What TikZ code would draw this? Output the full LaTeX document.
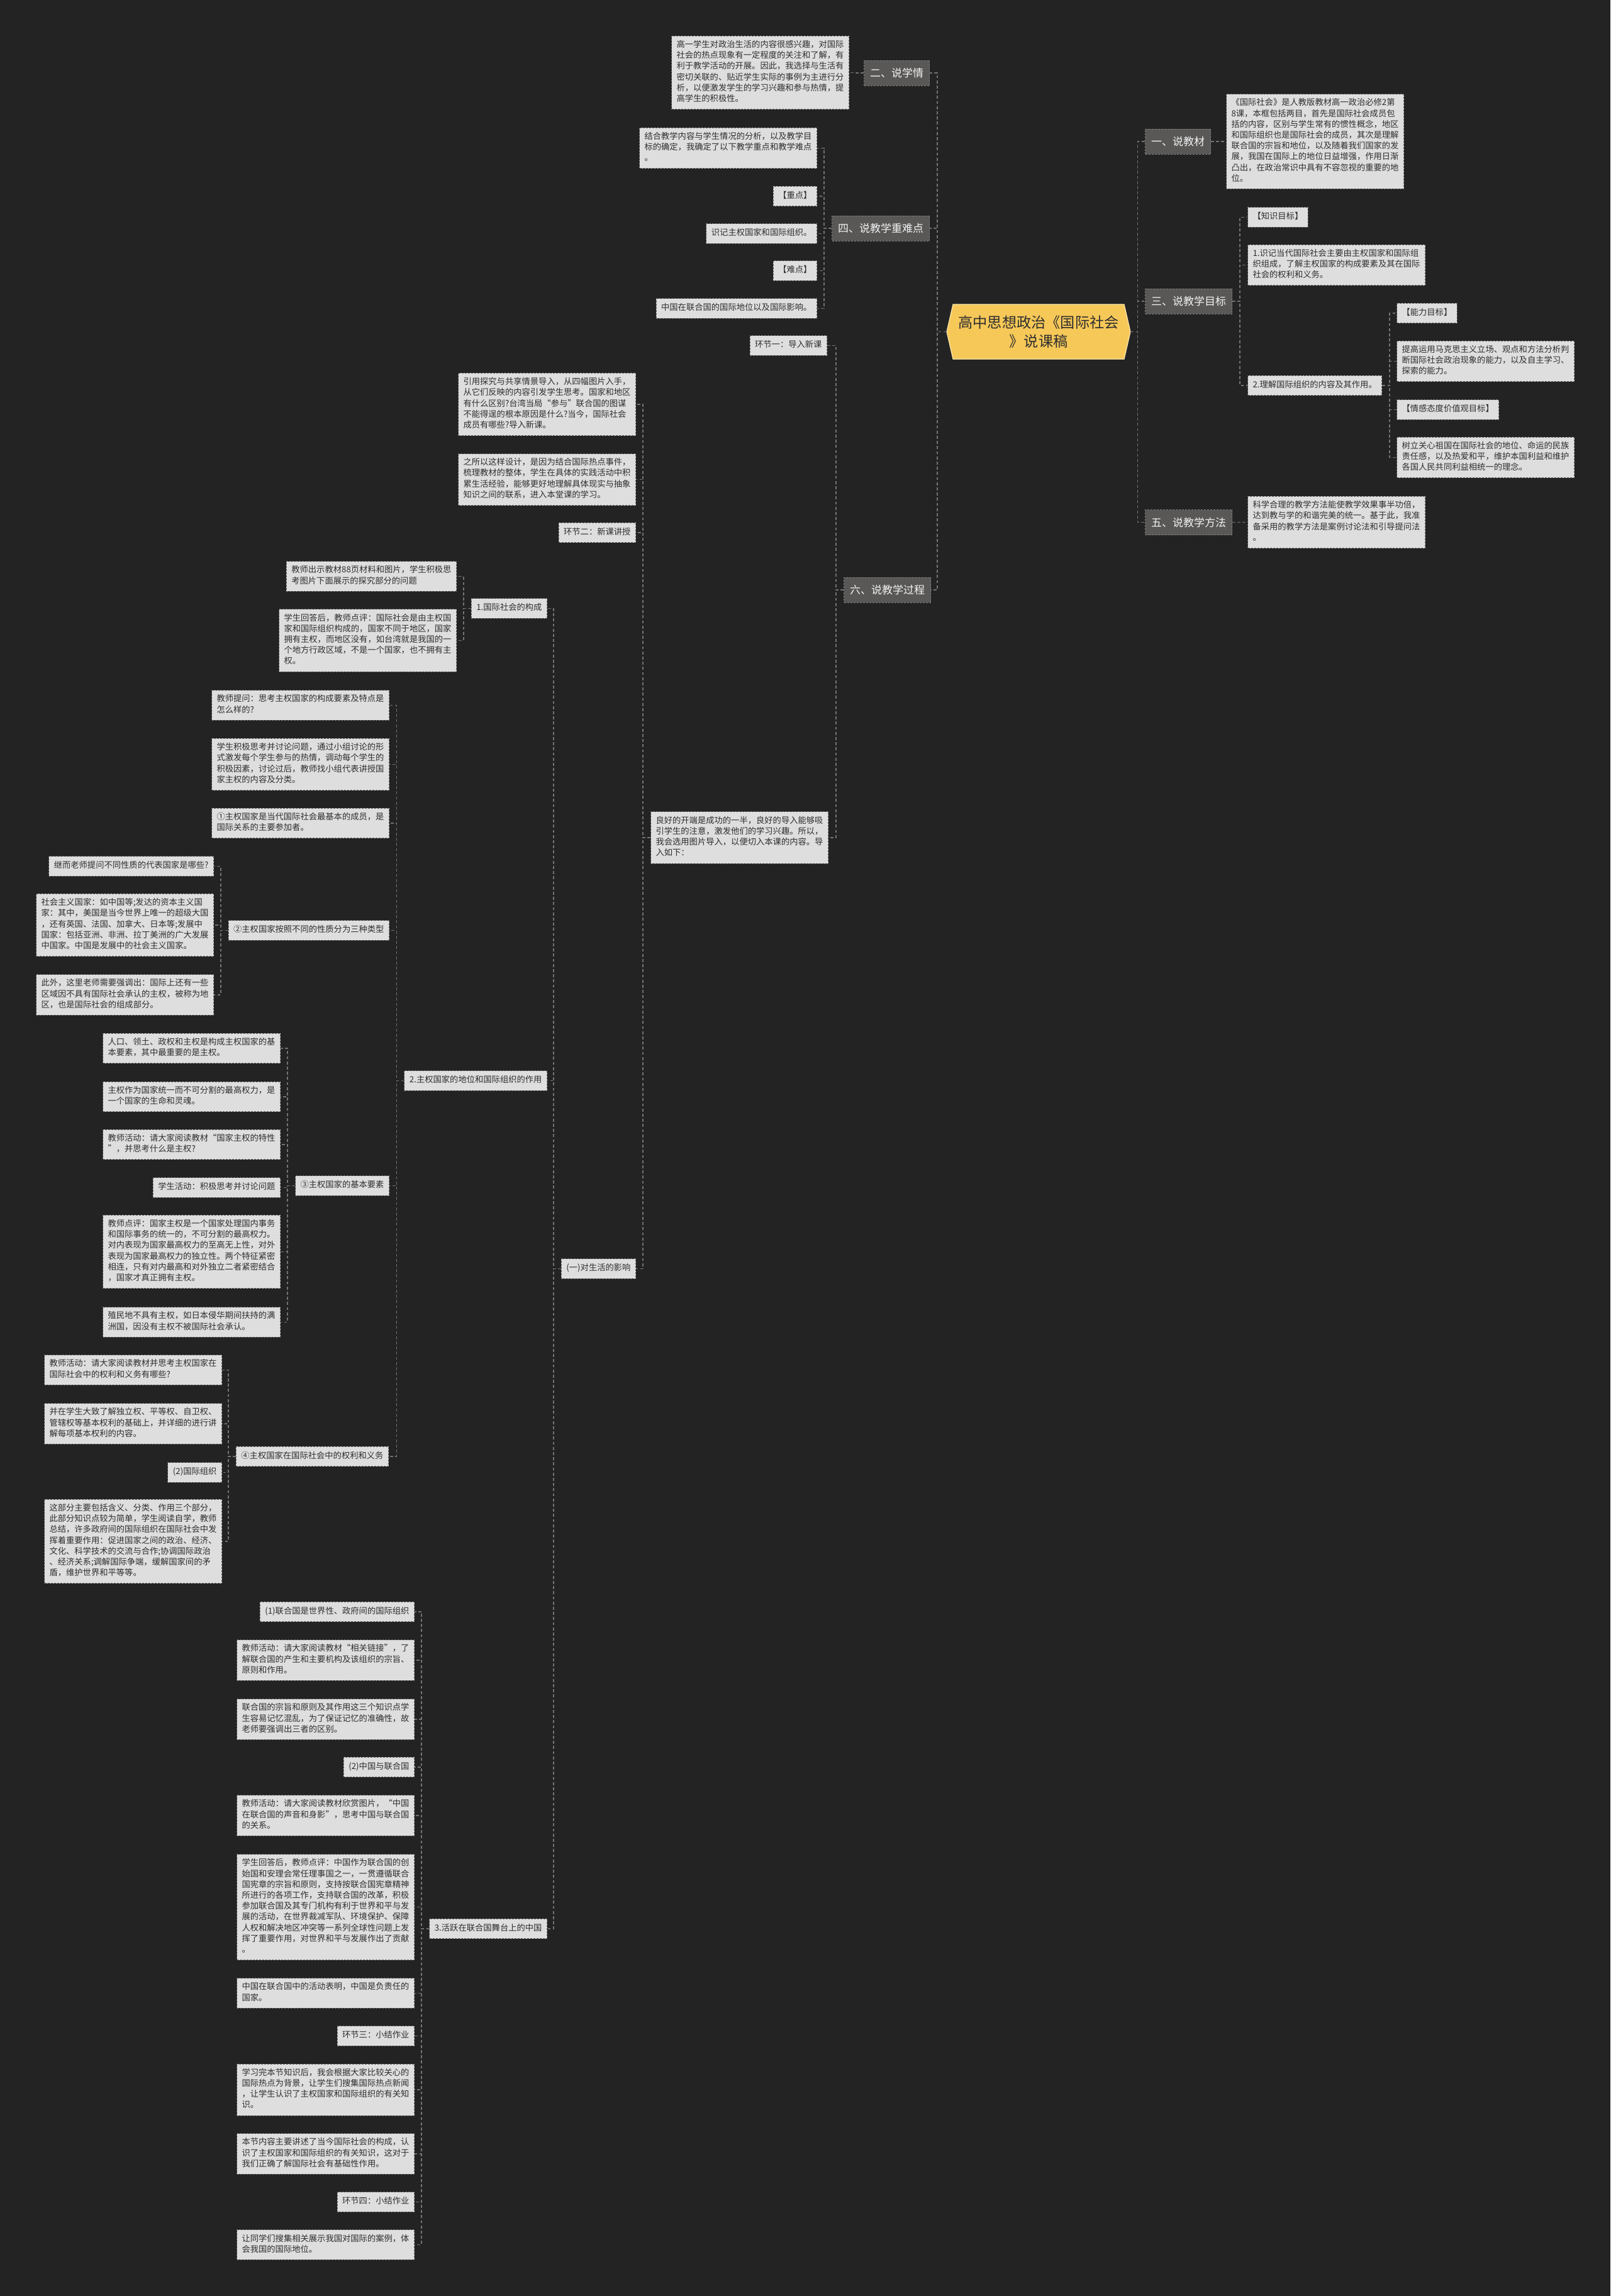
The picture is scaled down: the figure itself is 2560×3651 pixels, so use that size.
\documentclass[tikz,border=0pt]{standalone}
\usepackage{fontspec}
\setmainfont{Noto Sans CJK SC}
\definecolor{bgc}{HTML}{232323}
\definecolor{boxfill}{HTML}{DEDEDE}
\definecolor{boxline}{HTML}{6A6A6A}
\definecolor{boxtext}{HTML}{2E2E2E}
\definecolor{brfill}{HTML}{595857}
\definecolor{brline}{HTML}{7E7E7E}
\definecolor{brtext}{HTML}{F2F2F2}
\definecolor{connc}{HTML}{727272}
\definecolor{cyel}{HTML}{F6C858}
\definecolor{cedge}{HTML}{FBE7AE}
\newcommand\leaffont{\fontsize{6.65pt}{8.6pt}\selectfont}
\newcommand\brfont{\fontsize{8.5pt}{10pt}\selectfont}
\newcommand\cfont{\fontsize{11.6pt}{15pt}\selectfont}
\newcommand\nln{\\\strut}
\newcommand\linkL[2]{\foreach \ch in {#2}{\draw[conn] (#1.west) -- ++(-12,0) |- (\ch.east);}}
\newcommand\linkR[2]{\foreach \ch in {#2}{\draw[conn] (#1.east) -- ++(12,0) |- (\ch.west);}}
\begin{document}
\begin{tikzpicture}[x=0.5pt,y=-0.5pt,
  leaf/.style={draw=boxline, dash pattern=on 1.5pt off 1pt, line width=0.5pt, fill=boxfill, text=boxtext, align=left, inner xsep=4pt, inner ysep=3.5pt, font=\leaffont, execute at begin node=\strut},
  lft/.style={leaf, anchor=east},
  rgt/.style={leaf, anchor=west},
  br/.style={draw=brline, dash pattern=on 1.5pt off 1pt, line width=0.5pt, fill=brfill, text=brtext, font=\brfont, inner xsep=4.75pt, inner ysep=0pt, minimum height=20pt},
  conn/.style={draw=connc, line width=0.9pt, dash pattern=on 2.4pt off 1.7pt}]
\useasboundingbox (0,0) rectangle (2560,3651);
\fill[bgc] (0,0) rectangle (2560,3651);

% central
\filldraw[fill=cyel, draw=cedge, line width=0.6pt] (1505,527.5) -- (1515,484) -- (1787,484) -- (1797,527.5) -- (1787,571) -- (1515,571) -- cycle;
\node[minimum width=146pt, minimum height=43.5pt, inner sep=0pt, align=center, font=\cfont, text=boxtext] (c) at (1651,527.5) {高中思想政治《国际社会\\》说课稿};

% branches
\node[br, anchor=east] (b2) at (1478,116) {二、说学情};
\node[br, anchor=east] (b4) at (1478,363) {四、说教学重难点};
\node[br, anchor=east] (b6) at (1480,938) {六、说教学过程};
\node[br, anchor=west] (b1) at (1820,225) {一、说教材};
\node[br, anchor=west] (b3) at (1820,479) {三、说教学目标};
\node[br, anchor=west] (b5) at (1820,830.5) {五、说教学方法};

% right side leaves
\node[rgt] (b1a) at (1949,225) {《国际社会》是人教版教材高一政治必修2第\nln 8课，本框包括两目，首先是国际社会成员包\nln 括的内容，区别与学生常有的惯性概念，地区\nln 和国际组织也是国际社会的成员，其次是理解\nln 联合国的宗旨和地位，以及随着我们国家的发\nln 展，我国在国际上的地位日益增强，作用日渐\nln 凸出，在政治常识中具有不容忽视的重要的地\nln 位。};
\node[rgt] (b3a) at (1983,345.5) {【知识目标】};
\node[rgt] (b3b) at (1983,421.5) {1.识记当代国际社会主要由主权国家和国际组\nln 织组成，了解主权国家的构成要素及其在国际\nln 社会的权利和义务。};
\node[rgt] (b3c) at (1983,613) {2.理解国际组织的内容及其作用。};
\node[rgt] (b3d) at (2220,498) {【能力目标】};
\node[rgt] (b3e) at (2220,574.5) {提高运用马克思主义立场、观点和方法分析判\nln 断国际社会政治现象的能力，以及自主学习、\nln 探索的能力。};
\node[rgt] (b3f) at (2220,651.5) {【情感态度价值观目标】};
\node[rgt] (b3g) at (2220,727.5) {树立关心祖国在国际社会的地位、命运的民族\nln 责任感，以及热爱和平，维护本国利益和维护\nln 各国人民共同利益相统一的理念。};
\node[rgt] (b5a) at (1983,830.5) {科学合理的教学方法能使教学效果事半功倍，\nln 达到教与学的和谐完美的统一。基于此，我准\nln 备采用的教学方法是案例讨论法和引导提问法\nln 。};

% left side upper
\node[lft] (b2a) at (1350,115.5) {高一学生对政治生活的内容很感兴趣，对国际\nln 社会的热点现象有一定程度的关注和了解，有\nln 利于教学活动的开展。因此，我选择与生活有\nln 密切关联的、贴近学生实际的事例为主进行分\nln 析，以便激发学生的学习兴趣和参与热情，提\nln 高学生的积极性。};
\node[lft] (b4a) at (1299,235.5) {结合教学内容与学生情况的分析，以及教学目\nln 标的确定，我确定了以下教学重点和教学难点\nln 。};
\node[lft] (b4b) at (1299,312) {【重点】};
\node[lft] (b4c) at (1299,371.5) {识记主权国家和国际组织。};
\node[lft] (b4d) at (1299,430.5) {【难点】};
\node[lft] (b4e) at (1299,490.5) {中国在联合国的国际地位以及国际影响。};
\node[lft] (b6a) at (1315,549.5) {环节一：导入新课};
\node[lft] (b6b) at (1317,1332) {良好的开端是成功的一半，良好的导入能够吸\nln 引学生的注意，激发他们的学习兴趣。所以，\nln 我会选用图片导入，以便切入本课的内容。导\nln 入如下：};
\node[lft] (g1) at (1011,643) {引用探究与共享情景导入，从四幅图片入手，\nln 从它们反映的内容引发学生思考。国家和地区\nln 有什么区别?台湾当局“参与”联合国的图谋\nln 不能得逞的根本原因是什么?当今，国际社会\nln 成员有哪些?导入新课。};
\node[lft] (g2) at (1011,762.5) {之所以这样设计，是因为结合国际热点事件，\nln 梳理教材的整体，学生在具体的实践活动中积\nln 累生活经验，能够更好地理解具体现实与抽象\nln 知识之间的联系，进入本堂课的学习。};
\node[lft] (g3) at (1011,847) {环节二：新课讲授};
\node[lft] (g4) at (1011,2017.5) {(一)对生活的影响};

% 1.
\node[lft] (h1) at (870,967.5) {1.国际社会的构成};
\node[lft] (h1a) at (726,916.5) {教师出示教材88页材料和图片，学生积极思\nln 考图片下面展示的探究部分的问题};
\node[lft] (h1b) at (726,1018.5) {学生回答后，教师点评：国际社会是由主权国\nln 家和国际组织构成的，国家不同于地区，国家\nln 拥有主权，而地区没有，如台湾就是我国的一\nln 个地方行政区域，不是一个国家，也不拥有主\nln 权。};

% 2.
\node[lft] (h2) at (870,1718.5) {2.主权国家的地位和国际组织的作用};
\node[lft] (h2a) at (619,1121.5) {教师提问：思考主权国家的构成要素及特点是\nln 怎么样的?};
\node[lft] (h2b) at (619,1215.5) {学生积极思考并讨论问题，通过小组讨论的形\nln 式激发每个学生参与的热情，调动每个学生的\nln 积极因素，讨论过后，教师找小组代表讲授国\nln 家主权的内容及分类。};
\node[lft] (h2c) at (619,1309) {①主权国家是当代国际社会最基本的成员，是\nln 国际关系的主要参加者。};
\node[lft] (h2d) at (619,1479.5) {②主权国家按照不同的性质分为三种类型};
\node[lft] (h2d1) at (340,1377.5) {继而老师提问不同性质的代表国家是哪些?};
\node[lft] (h2d2) at (340,1471) {社会主义国家：如中国等;发达的资本主义国\nln 家：其中，美国是当今世界上唯一的超级大国\nln ，还有英国、法国、加拿大、日本等;发展中\nln 国家：包括亚洲、非洲、拉丁美洲的广大发展\nln 中国家。中国是发展中的社会主义国家。};
\node[lft] (h2d3) at (340,1582) {此外，这里老师需要强调出：国际上还有一些\nln 区域因不具有国际社会承认的主权，被称为地\nln 区，也是国际社会的组成部分。};
\node[lft] (h2e) at (619,1885.5) {③主权国家的基本要素};
\node[lft] (h2e1) at (446,1667) {人口、领土、政权和主权是构成主权国家的基\nln 本要素，其中最重要的是主权。};
\node[lft] (h2e2) at (446,1744) {主权作为国家统一而不可分割的最高权力，是\nln 一个国家的生命和灵魂。};
\node[lft] (h2e3) at (446,1820) {教师活动：请大家阅读教材“国家主权的特性\nln ”，并思考什么是主权?};
\node[lft] (h2e4) at (446,1888.5) {学生活动：积极思考并讨论问题};
\node[lft] (h2e5) at (446,1990.5) {教师点评：国家主权是一个国家处理国内事务\nln 和国际事务的统一的，不可分割的最高权力。\nln 对内表现为国家最高权力的至高无上性，对外\nln 表现为国家最高权力的独立性。两个特征紧密\nln 相连，只有对内最高和对外独立二者紧密结合\nln ，国家才真正拥有主权。};
\node[lft] (h2e6) at (446,2102.5) {殖民地不具有主权，如日本侵华期间扶持的满\nln 洲国，因没有主权不被国际社会承认。};
\node[lft] (h2f) at (618,2316) {④主权国家在国际社会中的权利和义务};
\node[lft] (h2f1) at (353,2178.5) {教师活动：请大家阅读教材并思考主权国家在\nln 国际社会中的权利和义务有哪些?};
\node[lft] (h2f2) at (353,2264) {并在学生大致了解独立权、平等权、自卫权、\nln 管辖权等基本权利的基础上，并详细的进行讲\nln 解每项基本权利的内容。};
\node[lft] (h2f3) at (353,2341.5) {(2)国际组织};
\node[lft] (h2f4) at (353,2451) {这部分主要包括含义、分类、作用三个部分，\nln 此部分知识点较为简单，学生阅读自学，教师\nln 总结，许多政府间的国际组织在国际社会中发\nln 挥着重要作用：促进国家之间的政治、经济、\nln 文化、科学技术的交流与合作;协调国际政治\nln 、经济关系;调解国际争端，缓解国家间的矛\nln 盾，维护世界和平等等。};

% 3.
\node[lft] (h3) at (870,3067) {3.活跃在联合国舞台上的中国};
\node[lft] (h3a) at (659,2563) {(1)联合国是世界性、政府间的国际组织};
\node[lft] (h3b) at (659,2640) {教师活动：请大家阅读教材“相关链接”，了\nln 解联合国的产生和主要机构及该组织的宗旨、\nln 原则和作用。};
\node[lft] (h3c) at (659,2734) {联合国的宗旨和原则及其作用这三个知识点学\nln 生容易记忆混乱，为了保证记忆的准确性，故\nln 老师要强调出三者的区别。};
\node[lft] (h3d) at (659,2810) {(2)中国与联合国};
\node[lft] (h3e) at (659,2887) {教师活动：请大家阅读教材欣赏图片，“中国\nln 在联合国的声音和身影”，思考中国与联合国\nln 的关系。};
\node[lft] (h3f) at (659,3032.5) {学生回答后，教师点评：中国作为联合国的创\nln 始国和安理会常任理事国之一，一贯遵循联合\nln 国宪章的宗旨和原则，支持按联合国宪章精神\nln 所进行的各项工作，支持联合国的改革，积极\nln 参加联合国及其专门机构有利于世界和平与发\nln 展的活动，在世界裁减军队、环境保护、保障\nln 人权和解决地区冲突等一系列全球性问题上发\nln 挥了重要作用，对世界和平与发展作出了贡献\nln 。};
\node[lft] (h3g) at (659,3169.5) {中国在联合国中的活动表明，中国是负责任的\nln 国家。};
\node[lft] (h3h) at (659,3237.5) {环节三：小结作业};
\node[lft] (h3i) at (659,3323) {学习完本节知识后，我会根据大家比较关心的\nln 国际热点为背景，让学生们搜集国际热点新闻\nln ，让学生认识了主权国家和国际组织的有关知\nln 识。};
\node[lft] (h3j) at (659,3425) {本节内容主要讲述了当今国际社会的构成，认\nln 识了主权国家和国际组织的有关知识，这对于\nln 我们正确了解国际社会有基础性作用。};
\node[lft] (h3k) at (659,3501.5) {环节四：小结作业};
\node[lft] (h3l) at (659,3569.5) {让同学们搜集相关展示我国对国际的案例，体\nln 会我国的国际地位。};

% connectors
\foreach \ch in {b2,b4,b6}{\draw[conn] (c.west) -- ++(-15,0) |- (\ch.east);}
\foreach \ch in {b1,b3,b5}{\draw[conn] (c.east) -- ++(11,0) |- (\ch.west);}
\linkR{b1}{b1a}
\linkR{b3}{b3a,b3b,b3c}
\linkR{b3c}{b3d,b3e,b3f,b3g}
\linkR{b5}{b5a}
\linkL{b2}{b2a}
\linkL{b4}{b4a,b4b,b4c,b4d,b4e}
\linkL{b6}{b6a,b6b}
\linkL{b6b}{g1,g2,g3,g4}
\linkL{g4}{h1,h2,h3}
\linkL{h1}{h1a,h1b}
\linkL{h2}{h2a,h2b,h2c,h2d,h2e,h2f}
\linkL{h2d}{h2d1,h2d2,h2d3}
\linkL{h2e}{h2e1,h2e2,h2e3,h2e4,h2e5,h2e6}
\linkL{h2f}{h2f1,h2f2,h2f3,h2f4}
\linkL{h3}{h3a,h3b,h3c,h3d,h3e,h3f,h3g,h3h,h3i,h3j,h3k,h3l}
\end{tikzpicture}
\end{document}
